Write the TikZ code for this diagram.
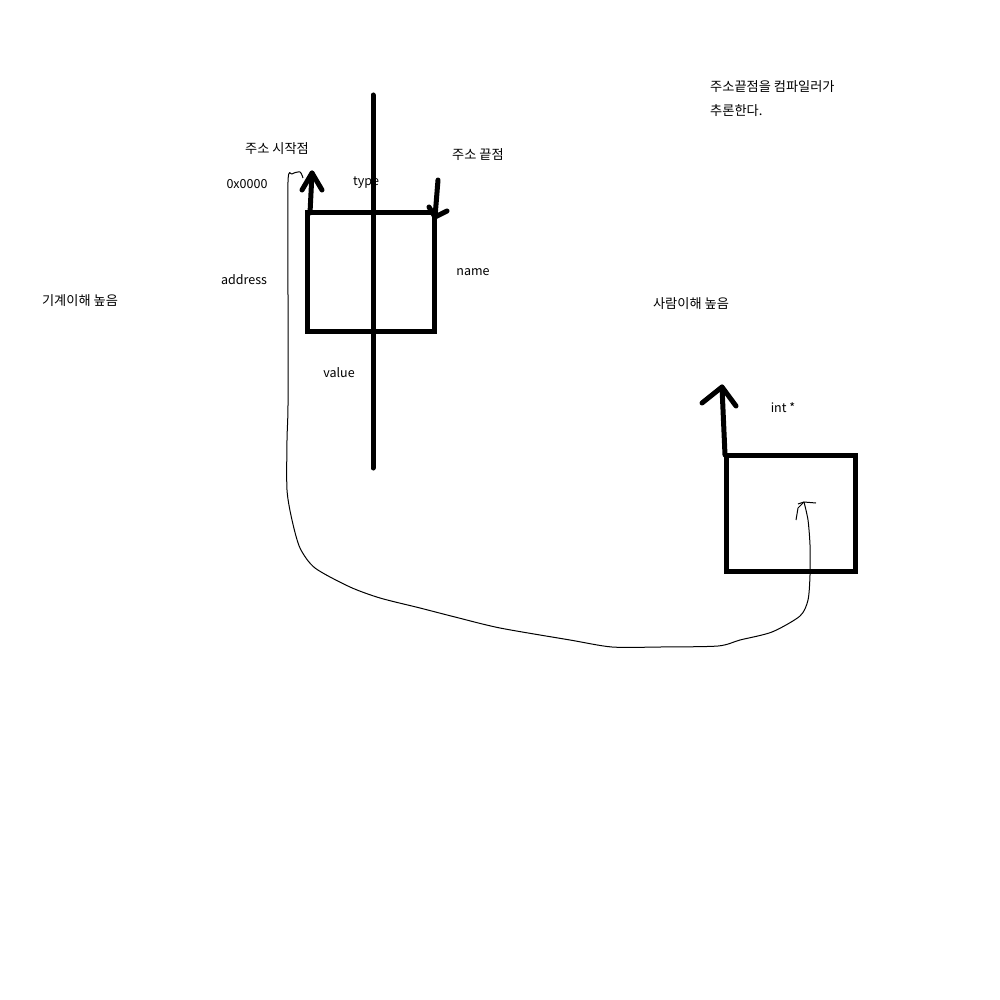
\documentclass[tikz,border=0pt]{standalone}
\usepackage{fontspec}
\setmainfont{Noto Sans CJK KR}
\begin{document}
\begin{tikzpicture}[x=1pt,y=-1pt,
  thick line/.style={line width=5pt,line cap=round,line join=round},
  thin line/.style={line width=1pt,line join=round},
  lbl/.style={inner sep=0pt,font=\fontsize{12.5}{15}\selectfont},
  klbl/.style={inner sep=0pt,font=\fontsize{13.2}{16}\selectfont}]
\useasboundingbox[fill=white] (0,0) rectangle (1000,1000);
% vertical axis
\coordinate (vtop) at (373,95);
\coordinate (vbot) at (373,468);
\draw[thick line] (vtop) -- (vbot);
% box 1
\node[draw,line width=5pt,minimum width=127pt,minimum height=118pt,inner sep=0pt] (box1) at (370.5,272) {};
% start arrow
\coordinate (sa0) at (310,213);
\coordinate (sa1) at (312,173);
\draw[thick line] (sa0) -- (sa1);
\draw[thick line] (302,190) -- (sa1) -- (322,190);
% end arrow
\coordinate (ea0) at (438,180);
\coordinate (ea1) at (435,217);
\draw[thick line] (ea0) -- (ea1);
\draw[thick line] (429,207) -- (ea1) -- (447,211);
% box 2
\node[draw,line width=5pt,minimum width=129pt,minimum height=116pt,inner sep=0pt] (box2) at (790.5,513) {};
\coordinate (pa0) at (725,455);
\coordinate (pa1) at (722,387);
\draw[thick line] (pa0) -- (pa1);
\draw[thick line] (702,403) -- (pa1) -- (736,406);
% thin curve
\draw[thin line] plot[smooth,tension=0.45] coordinates {
 (804,502) (808,520) (810,545) (810,575) (808,600) (800,616) (772,632) (740,640) (718,646)
 (660,647) (612,647) (570,640) (500,628) (455,617) (420,608) (380,598) (350,587)
 (315,568) (300,548) (292,520) (287,490) (287,440) (288,405) (288,300) (288,182) (292,174) (300,172) (303,178)};
\draw[thin line] (796,520) -- (798,508) -- (804,502) -- (816,503);
\draw[thin line] (798,504) -- (804,502);
% labels
\node[klbl] (t1) at (277,149) {주소 시작점};
\node[klbl] (t2) at (478,155) {주소 끝점};
\node[lbl] (t3) at (247,184) {0x0000};
\node[lbl] (t4) at (366,183) {type};
\node[lbl] (t5) at (244,280) {address};
\node[lbl] (t6) at (473,272) {name};
\node[lbl] (t7) at (339,373) {value};
\node[klbl] (t8) at (80,301) {기계이해 높음};
\node[klbl] (t9) at (691,304) {사람이해 높음};
\node[lbl] (t10) at (783,408) {int *};
\node[klbl,anchor=west] (t11) at (710,87) {주소끝점을 컴파일러가};
\node[klbl,anchor=west] (t12) at (710,111) {추론한다.};
\end{tikzpicture}
\end{document}
